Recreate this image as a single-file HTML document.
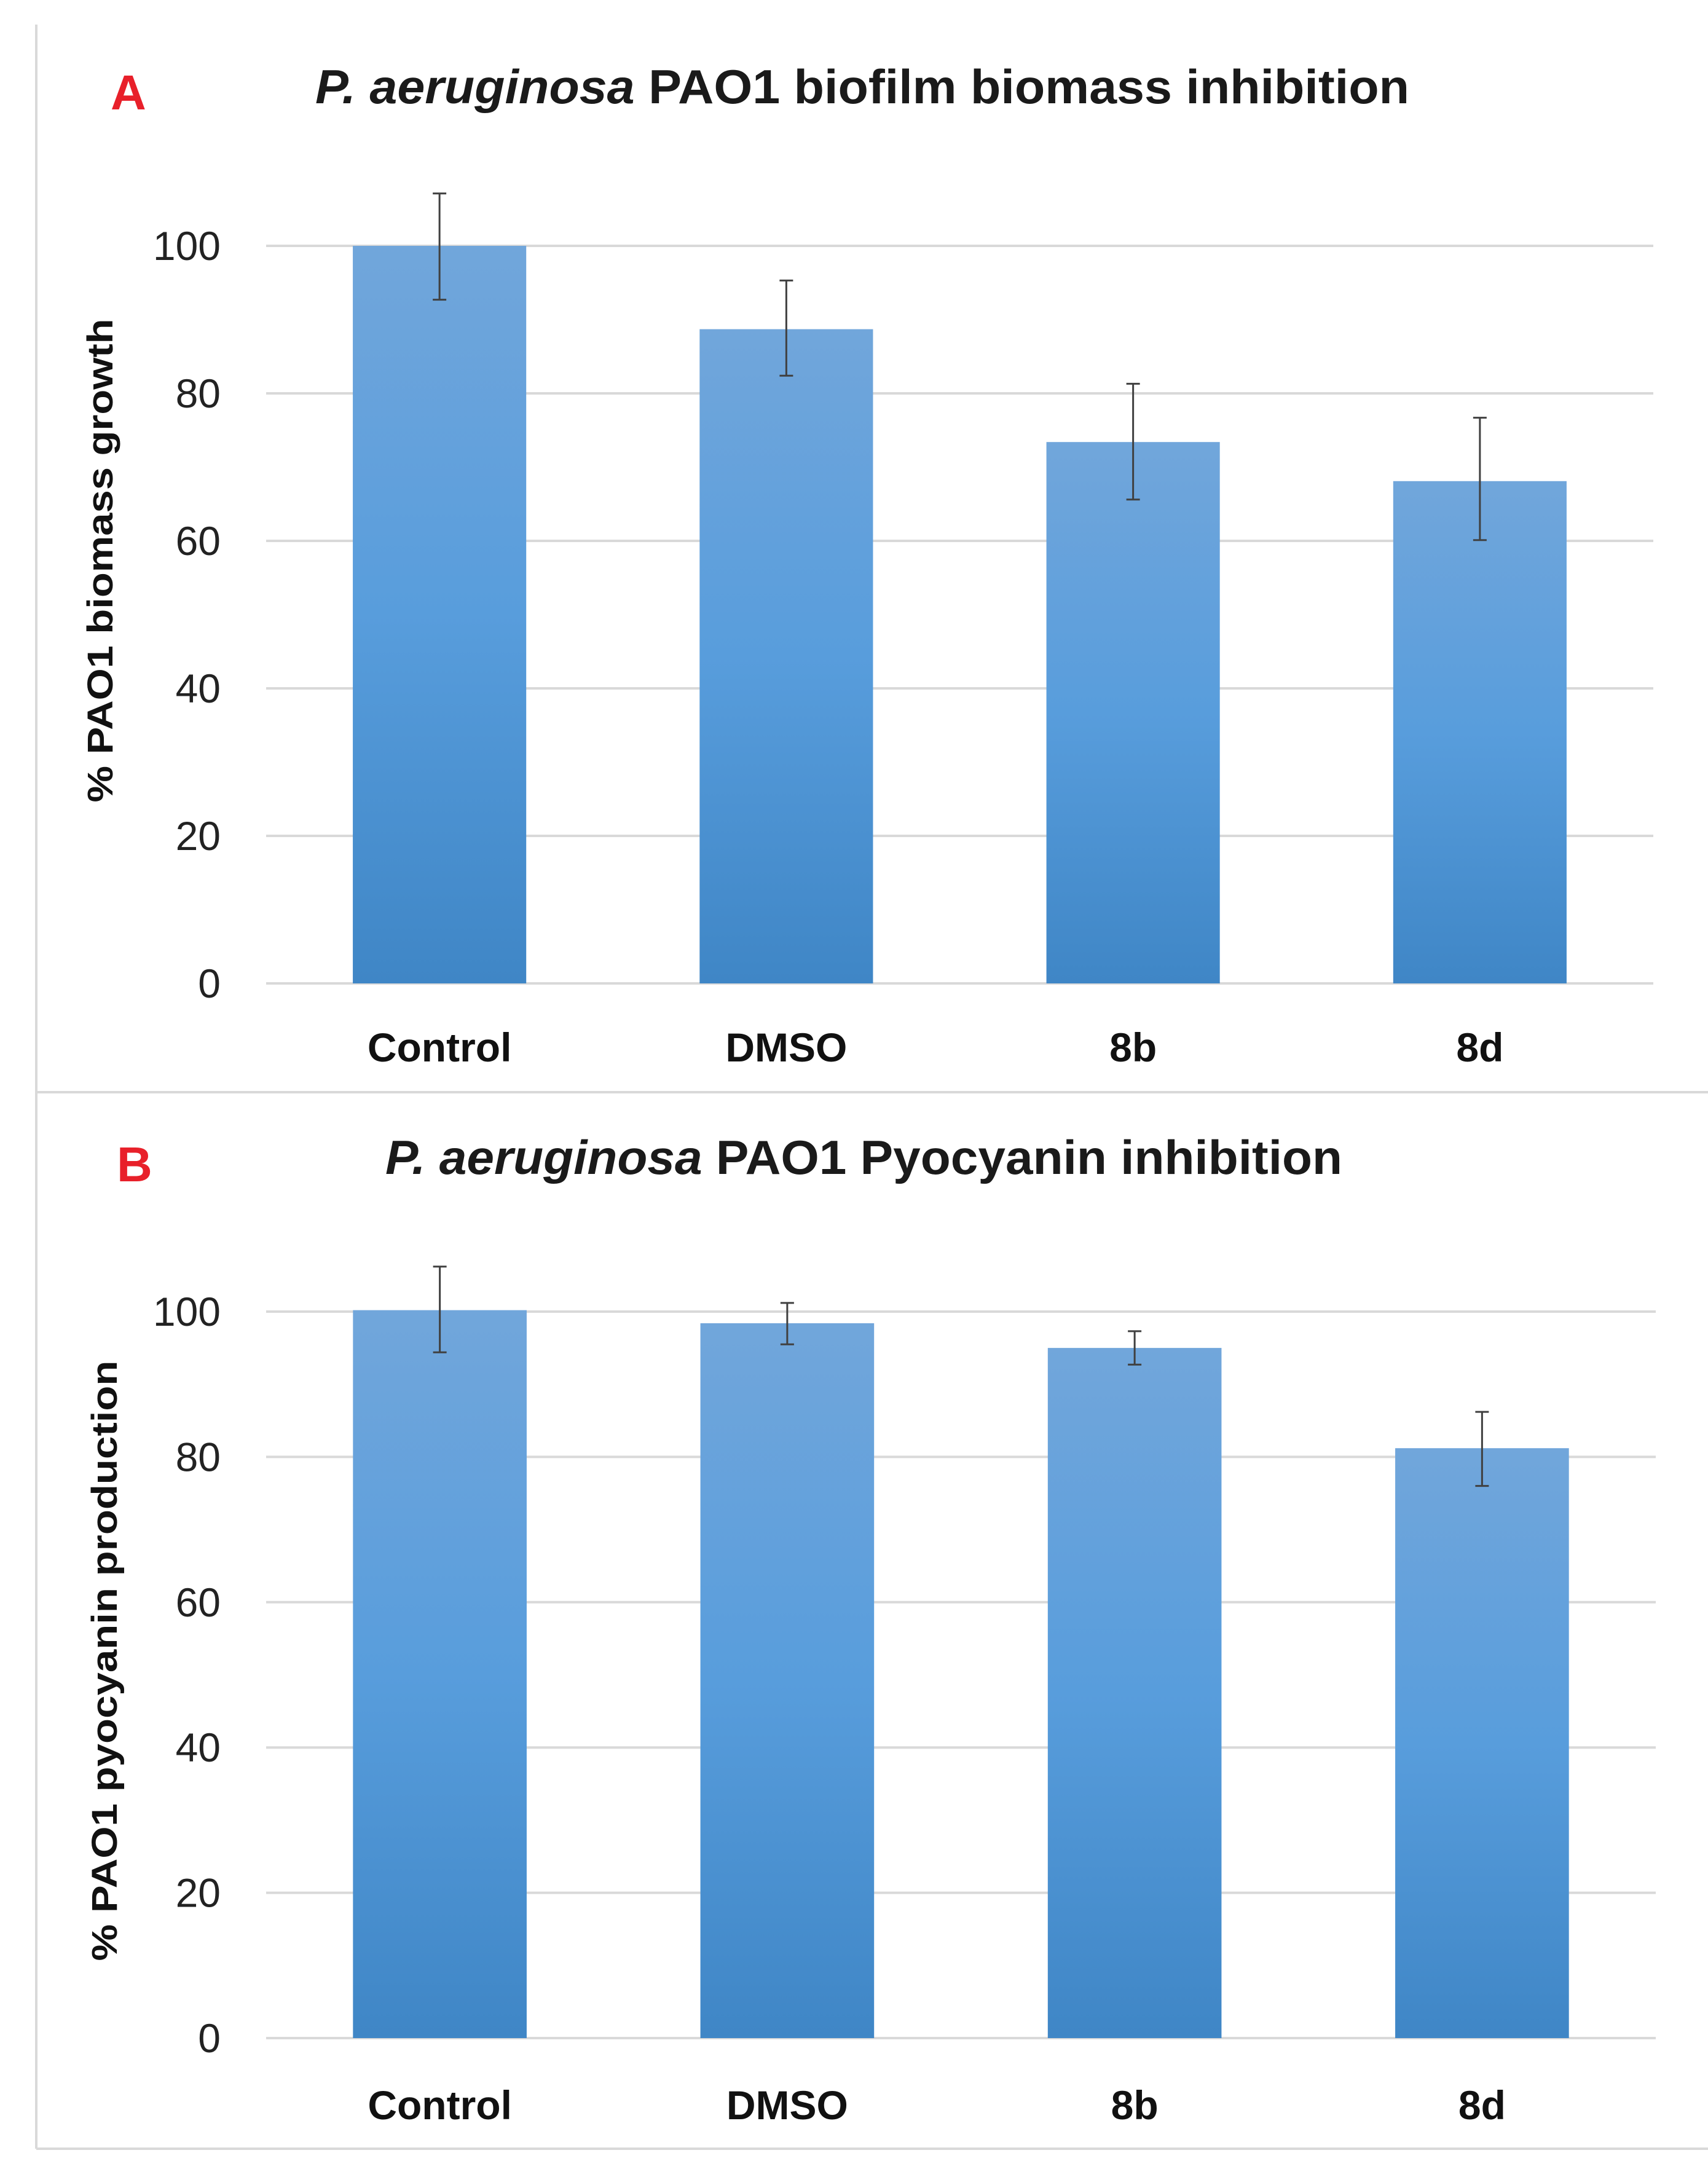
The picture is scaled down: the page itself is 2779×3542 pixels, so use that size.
<!DOCTYPE html>
<html><head><meta charset="utf-8"><style>
html,body{margin:0;padding:0;background:#fff;}
svg{display:block;font-family:"Liberation Sans",sans-serif;}
</style></head><body>
<svg id="fig" width="2779" height="3542" viewBox="0 0 2779 3542" xmlns="http://www.w3.org/2000/svg">
<defs>
<linearGradient id="barGrad" x1="0" y1="0" x2="0" y2="1">
<stop offset="0" stop-color="#71a6db"/>
<stop offset="0.5" stop-color="#589ddc"/>
<stop offset="1" stop-color="#3f86c6"/>
</linearGradient>
</defs>
<g stroke="#d9d9d9" stroke-width="4">
<line x1="59" y1="40" x2="59" y2="3496"/>
<line x1="59" y1="1777" x2="2779" y2="1777"/>
<line x1="59" y1="3496" x2="2779" y2="3496"/>
</g>
<text x="180" y="178" font-size="80" font-weight="bold" fill="#e8202a">A</text>
<text x="513" y="168" font-size="78" font-weight="bold" fill="#1a1a1a" textLength="1780" lengthAdjust="spacingAndGlyphs"><tspan font-style="italic">P. aeruginosa</tspan> PAO1 biofilm biomass inhibition</text>
<text x="190" y="1922" font-size="80" font-weight="bold" fill="#e8202a">B</text>
<text x="627" y="1910" font-size="78" font-weight="bold" fill="#1a1a1a" textLength="1557" lengthAdjust="spacingAndGlyphs"><tspan font-style="italic">P. aeruginosa</tspan> PAO1 Pyocyanin inhibition</text>
<text transform="translate(183,912) rotate(-90)" text-anchor="middle" font-size="58" font-weight="bold" fill="#111" textLength="787" lengthAdjust="spacingAndGlyphs">% PAO1 biomass growth</text>
<text transform="translate(190,2702) rotate(-90)" text-anchor="middle" font-size="58" font-weight="bold" fill="#111" textLength="977" lengthAdjust="spacingAndGlyphs">% PAO1 pyocyanin production</text>
<g id="chartA"></g>
<g id="chartB"></g>
</svg>
<script>
const categories = ["Control", "DMSO", "8b", "8d"];
const yTicks = [0, 20, 40, 60, 80, 100];
const biomassValues = [100, 88.7, 73.4, 68.1];
const biomassErrHigh = [107.1, 95.3, 81.3, 76.7];
const biomassErrLow = [92.7, 82.4, 65.6, 60.1];
const pyocyaninValues = [100.2, 98.4, 95.0, 81.2];
const pyocyaninErrHigh = [106.2, 101.2, 97.3, 86.2];
const pyocyaninErrLow = [94.4, 95.5, 92.7, 76.0];

const NS = "http://www.w3.org/2000/svg";
function mk(tag, attrs, parent) {
  const e = document.createElementNS(NS, tag);
  for (const k in attrs) e.setAttribute(k, attrs[k]);
  parent.appendChild(e);
  return e;
}
function drawChart(g, prefix, vals, hi, lo, box) {
  const yScale = v => box.y0 + (box.y100 - box.y0) * v / 100;
  const band = (box.x1 - box.x0) / categories.length;
  const xCenter = i => box.x0 + band * (i + 0.5);
  const bw = band * 0.5;
  yTicks.forEach(t => {
    const y = yScale(t);
    const l = mk("line", {x1: box.x0, x2: box.x1, y1: y, y2: y, stroke: "#d9d9d9", "stroke-width": 4}, g);
    
    
    const tx = mk("text", {x: 359, y: y + 23, "text-anchor": "end", "font-size": 66, fill: "#222"}, g);
    tx.textContent = t;
    
    
  });
  categories.forEach((c, i) => {
    const cx = xCenter(i);
    const yt = yScale(vals[i]);
    const r = mk("rect", {x: cx - bw / 2, y: yt, width: bw, height: yScale(0) - yt, fill: "url(#barGrad)"}, g);
    
    
    const eg = mk("g", {stroke: "#404040", "stroke-width": 3}, g);
    
    
    const yh = yScale(hi[i]), yl = yScale(lo[i]);
    mk("line", {x1: cx, x2: cx, y1: yh, y2: yl}, eg);
    mk("line", {x1: cx - 11, x2: cx + 11, y1: yh, y2: yh}, eg);
    mk("line", {x1: cx - 11, x2: cx + 11, y1: yl, y2: yl}, eg);
    const lt = mk("text", {x: cx, y: box.labelY, "text-anchor": "middle", "font-size": 66, "font-weight": "bold", fill: "#111"}, g);
    lt.textContent = c;
    
    
  });
}
drawChart(document.getElementById("chartA"), "chart-a", biomassValues, biomassErrHigh, biomassErrLow,
  {x0: 433, x1: 2690, y0: 1600, y100: 400, labelY: 1727});
drawChart(document.getElementById("chartB"), "chart-b", pyocyaninValues, pyocyaninErrHigh, pyocyaninErrLow,
  {x0: 433, x1: 2694, y0: 3316, y100: 2134, labelY: 3448});
</script>
</body></html>
